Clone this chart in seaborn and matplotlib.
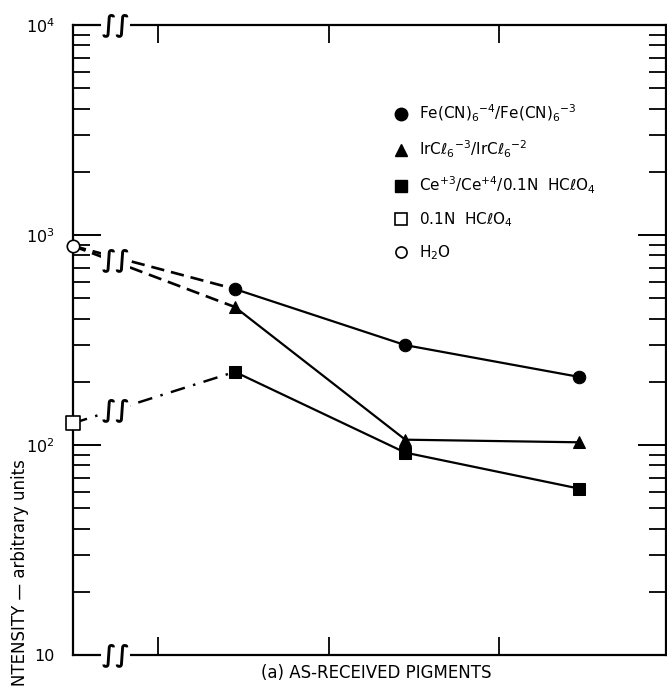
import numpy as np
import pandas as pd
import matplotlib
matplotlib.use("Agg")
import matplotlib.pyplot as plt
import matplotlib.transforms as mtransforms
import seaborn as sns
from matplotlib.lines import Line2D
from matplotlib.ticker import FixedLocator, FixedFormatter, LogLocator, NullFormatter

# ---------------- data ----------------
stage_x = [1.45, 2.45, 3.47]          # three pigment stages (unlabelled)
ref_x = 0.5                           # reference (electrolyte only) position
h2o_ref = 887                         # H2O
hclo4_ref = 127                       # 0.1N HClO4
fe_vals = [553, 299, 211]             # Fe(CN)6-4/Fe(CN)6-3
ir_vals = [454, 106, 103]             # IrCl6-3/IrCl6-2
ce_vals = [223, 92, 62]               # Ce+3/Ce+4/0.1N HClO4
legend_labels = [
    r"Fe(CN)$_6$$^{-4}$/Fe(CN)$_6$$^{-3}$",
    r"IrCℓ$_6$$^{-3}$/IrCℓ$_6$$^{-2}$",
    r"Ce$^{+3}$/Ce$^{+4}$/0.1N  HCℓO$_4$",
    r"0.1N  HCℓO$_4$",
    r"H$_2$O",
]
ytick_vals = [10, 100, 1000, 10000]
ytick_labels = ["10", r"$10^2$", r"$10^3$", r"$10^4$"]
xtick_vals = [1, 2, 3]
break_x = 0.75
xlabel = "(a) AS-RECEIVED PIGMENTS"
ylabel = "INTENSITY — arbitrary units"

# ---------------- style ----------------
sns.set_style("ticks")
plt.rcParams["font.family"] = ["DejaVu Sans"]
plt.rcParams["mathtext.fontset"] = "dejavusans"
for key in ["text.color", "axes.labelcolor", "xtick.color", "ytick.color",
            "axes.edgecolor", "legend.labelcolor"]:
    plt.rcParams[key] = "black"

fig = plt.figure(figsize=(6.67, 6.86), dpi=100)
ax = fig.add_axes([73 / 667, 31 / 686, 593 / 667, 630 / 686])
ax.set_yscale("log")
ax.set_ylim(10, 10000)
ax.set_xlim(0.5, 3.98)

lw = 1.6
ms = 9

# solid series
for vals, mk in [(fe_vals, "o"), (ir_vals, "^"), (ce_vals, "s")]:
    sns.lineplot(x=stage_x, y=vals, ax=ax, color="black", lw=lw, marker=mk,
                 markersize=ms, markeredgecolor="black", zorder=3)

# dashed connections from references
sns.lineplot(x=[ref_x, stage_x[0]], y=[h2o_ref, fe_vals[0]], ax=ax, color="black",
             lw=lw * 1.2, linestyle=(0, (5, 2.6)), zorder=2)
sns.lineplot(x=[ref_x, stage_x[0]], y=[h2o_ref, ir_vals[0]], ax=ax, color="black",
             lw=lw * 1.2, linestyle=(0, (5, 2.6)), zorder=2)
sns.lineplot(x=[ref_x, stage_x[0]], y=[hclo4_ref, ce_vals[0]], ax=ax, color="black",
             lw=lw * 1.1, linestyle=(0, (6, 3.5, 1, 3.5)), zorder=2)

# reference markers (open)
sns.scatterplot(x=[ref_x], y=[h2o_ref], ax=ax, marker="o", s=80, facecolor="white",
                edgecolor="black", linewidth=1.2, clip_on=False, zorder=6)
sns.scatterplot(x=[ref_x], y=[hclo4_ref], ax=ax, marker="s", s=90, facecolor="white",
                edgecolor="black", linewidth=1.2, clip_on=False, zorder=6)

# break marks
def log_interp(x, x0, y0, x1, y1):
    t = (x - x0) / (x1 - x0)
    return 10 ** (np.log10(y0) + t * (np.log10(y1) - np.log10(y0)))

brk_kw = dict(ha="center", va="center", fontsize=17, family="DejaVu Sans",
              fontweight="bold", color="black",
              bbox=dict(facecolor="white", edgecolor="none", pad=0.3), zorder=7)
y_up = np.sqrt(log_interp(break_x, ref_x, h2o_ref, stage_x[0], fe_vals[0]) *
               log_interp(break_x, ref_x, h2o_ref, stage_x[0], ir_vals[0]))
ax.text(break_x, y_up, "∫∫", **brk_kw)
ax.text(break_x, log_interp(break_x, ref_x, hclo4_ref, stage_x[0], ce_vals[0]), "∫∫", **brk_kw)
trans = mtransforms.blended_transform_factory(ax.transData, ax.transAxes)
ax.text(break_x, 1.0, "∫∫", transform=trans, clip_on=False, **brk_kw)
ax.text(break_x, 0.0, "∫∫", transform=trans, clip_on=False, **brk_kw)

# ticks
ax.yaxis.set_major_locator(FixedLocator(ytick_vals))
ax.yaxis.set_major_formatter(FixedFormatter(ytick_labels))
ax.yaxis.set_minor_locator(LogLocator(base=10, subs=np.arange(2, 10)))
ax.yaxis.set_minor_formatter(NullFormatter())
ax.tick_params(axis="y", which="major", direction="in", length=20, width=1.4,
               left=True, right=True, labelsize=11.5, pad=13, colors="black")
ax.tick_params(axis="y", which="minor", direction="in", length=12, width=1.3,
               left=True, right=True, colors="black")
ax.xaxis.set_major_locator(FixedLocator(xtick_vals))
ax.tick_params(axis="x", which="major", direction="in", length=13, width=1.3,
               top=True, bottom=True, labelbottom=False, colors="black")
ax.tick_params(axis="x", which="minor", bottom=False, top=False)
for sp in ax.spines.values():
    sp.set_visible(True)
    sp.set_linewidth(1.6)
    sp.set_color("black")
ax.set_xlabel("")
ax.set_ylabel("")

fig.text(376 / 667, 1 - 673 / 686, xlabel, ha="center", va="center", fontsize=12,
         color="black")
fig.text(20 / 667, -5 / 686, ylabel, rotation=90, ha="center", va="bottom",
         fontsize=12, color="black")

# legend
handles = [
    Line2D([], [], ls="none", marker="o", ms=ms, color="black"),
    Line2D([], [], ls="none", marker="^", ms=ms, color="black"),
    Line2D([], [], ls="none", marker="s", ms=ms, color="black"),
    Line2D([], [], ls="none", marker="s", ms=ms, mfc="white", mec="black", mew=1.2),
    Line2D([], [], ls="none", marker="o", ms=ms - 1, mfc="white", mec="black", mew=1.2),
]
ax.legend(handles, legend_labels, loc="upper left", frameon=False, fontsize=11,
          bbox_to_anchor=(393 / 667, 1 - 103 / 686), bbox_transform=fig.transFigure,
          borderaxespad=0, borderpad=0, handlelength=1.0, handletextpad=0.7,
          labelspacing=0.95, labelcolor="black")

fig.savefig("out.png", dpi=100)
